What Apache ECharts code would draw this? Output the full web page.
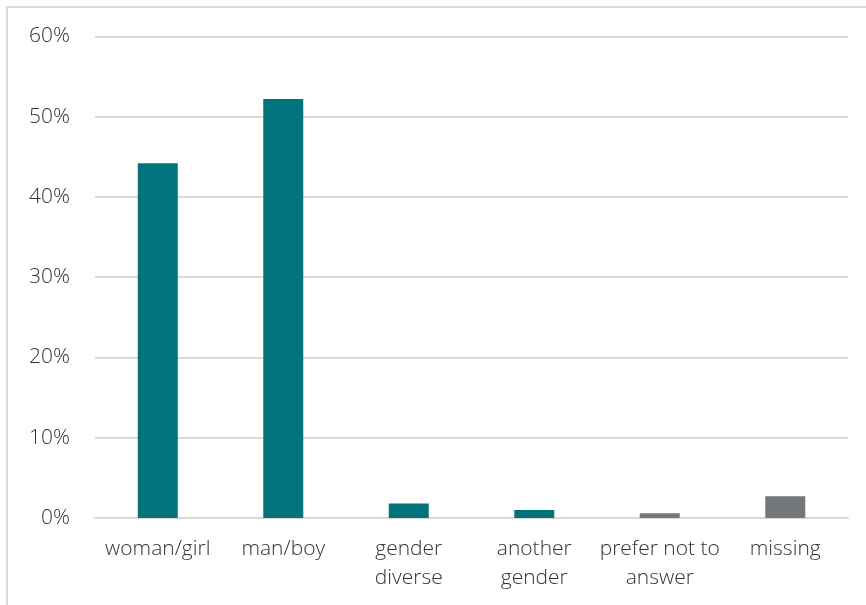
<!DOCTYPE html>
<html>
<head>
<meta charset="utf-8">
<script src="https://cdn.jsdelivr.net/npm/echarts@6/dist/echarts.min.js"></script>
<style>
  html, body { margin: 0; padding: 0; background: #ffffff; }
  #chart { width: 866px; height: 605px; }
</style>
</head>
<body>
<div id="chart"></div>
<script>
// Gender distribution of respondents (share of total)
const categories = ['woman/girl', 'man/boy', 'gender\ndiverse', 'another\ngender', 'prefer not to\nanswer', 'missing'];
const shares = [44.2, 52.2, 1.8, 1.0, 0.6, 2.7];
// Non-responses are shown in grey, gender answers in teal
const isNonResponse = [false, false, false, false, true, true];
const yTicks = [0, 10, 20, 30, 40, 50, 60];

const teal = '#00747a';
const grey = '#75787b';
const textColor = '#333333';
const fontFamily = '"Open Sans", "DejaVu Sans", sans-serif';

const chart = echarts.init(document.getElementById('chart'), null, { renderer: 'canvas' });

chart.setOption({
  animation: false,
  backgroundColor: '#ffffff',
  graphic: [{
    type: 'rect',
    silent: true,
    shape: { x: 7, y: 7, width: 900, height: 700 },
    style: { fill: 'none', stroke: '#d9d9d9', lineWidth: 2 }
  }],
  grid: { left: 95, right: 18, top: 36.4, bottom: 87, containLabel: false },
  xAxis: {
    type: 'category',
    data: categories,
    axisTick: { show: false },
    axisLine: { show: true, lineStyle: { color: '#d9d9d9', width: 2 } },
    axisLabel: {
      color: textColor,
      fontFamily: fontFamily,
      fontWeight: 300,
      fontSize: 21,
      lineHeight: 29,
      margin: 17,
      interval: 0
    }
  },
  yAxis: {
    type: 'value',
    min: yTicks[0],
    max: yTicks[yTicks.length - 1],
    interval: 10,
    axisLine: { show: false },
    axisTick: { show: false },
    splitLine: { lineStyle: { color: '#d9d9d9', width: 2 } },
    axisLabel: {
      color: textColor,
      fontFamily: fontFamily,
      fontWeight: 300,
      fontSize: 21,
      margin: 25,
      formatter: v => v + '%'
    }
  },
  series: [{
    type: 'bar',
    barWidth: 40,
    data: shares.map((v, i) => ({
      value: v,
      itemStyle: { color: isNonResponse[i] ? grey : teal }
    }))
  }]
});
</script>
</body>
</html>
